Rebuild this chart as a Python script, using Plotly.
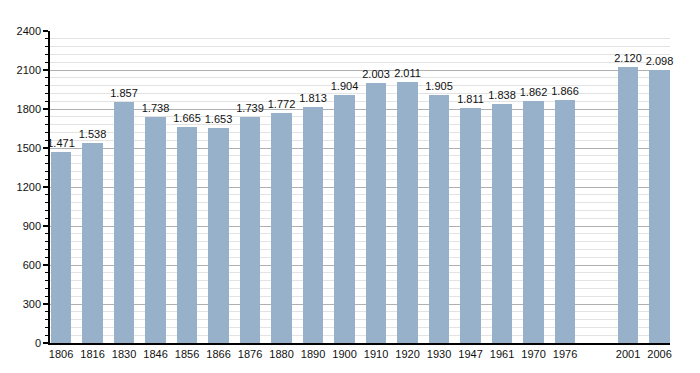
import plotly.graph_objects as go

years = ["1806", "1816", "1830", "1846", "1856", "1866", "1876", "1880", "1890",
         "1900", "1910", "1920", "1930", "1947", "1961", "1970", "1976", "2001", "2006"]
population = [1471, 1538, 1857, 1738, 1665, 1653, 1739, 1772, 1813,
              1904, 2003, 2011, 1905, 1811, 1838, 1862, 1866, 2120, 2098]
# slot positions (an empty slot separates 1976 and 2001)
slots = list(range(17)) + [18, 19]

labels = [f"{v:,}".replace(",", ".") for v in population]

fig = go.Figure(go.Bar(
    x=slots, y=population, width=0.65,
    marker=dict(color="#98b1ca", line=dict(width=0)),
    text=labels, textposition="outside", constraintext="none",
    textfont=dict(family="Liberation Sans, Arial, sans-serif", size=11, color="#111"),
    cliponaxis=False,
))

fig.update_layout(
    width=692, height=365,
    margin=dict(l=42, r=30, t=23, b=30),
    paper_bgcolor="white", plot_bgcolor="white",
    showlegend=False, bargap=0,
    font=dict(family="Liberation Sans, Arial, sans-serif", size=11, color="#111"),
)
fig.update_xaxes(
    range=[-0.35, 19.33], tickmode="array", tickvals=slots, ticktext=years,
    showgrid=False, zeroline=False, showline=True, linecolor="black", linewidth=1.5,
    ticks="", tickfont=dict(size=11), automargin=False,
)
fig.update_yaxes(
    range=[0, 2400], tickmode="linear", tick0=0, dtick=300,
    showgrid=True, gridcolor="#b0b0b0", gridwidth=1,
    zeroline=False, showline=True, linecolor="black", linewidth=1.5,
    ticks="outside", ticklen=5, tickcolor="black", tickwidth=1.5,
    tickfont=dict(size=11), automargin=False,
    minor=dict(dtick=60, showgrid=True, gridcolor="#e3e3e3", gridwidth=1,
               ticks="outside", ticklen=3, tickcolor="black", tickwidth=1),
)

fig.write_html("out.html")
